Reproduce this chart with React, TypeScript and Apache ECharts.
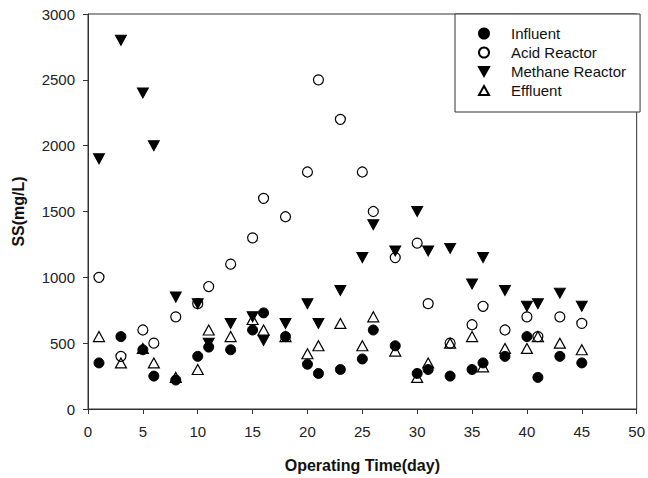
import React, { useEffect, useRef } from "react";
import * as echarts from "echarts";

const days = [1, 3, 5, 6, 8, 10, 11, 13, 15, 16, 18, 20, 21, 23, 25, 26, 28, 30, 31, 33, 35, 36, 38, 40, 41, 43, 45];
const influent = [350, 550, 450, 250, 220, 400, 470, 450, 600, 730, 550, 340, 270, 300, 380, 600, 480, 270, 300, 250, 300, 350, 400, 550, 240, 400, 350];
const acidReactor = [1000, 400, 600, 500, 700, 800, 930, 1100, 1300, 1600, 1460, 1800, 2500, 2200, 1800, 1500, 1150, 1260, 800, 500, 640, 780, 600, 700, 550, 700, 650];
const methaneReactor = [1900, 2800, 2400, 2000, 850, 800, 500, 650, 700, 520, 650, 800, 650, 900, 1150, 1400, 1200, 1500, 1200, 1220, 950, 1150, 900, 780, 800, 880, 780];
const effluent = [550, 350, 460, 350, 240, 300, 600, 550, 680, 600, 550, 420, 480, 650, 480, 700, 440, 240, 350, 500, 550, 320, 460, 460, 550, 500, 450];

const xTicks = [0, 5, 10, 15, 20, 25, 30, 35, 40, 45, 50];
const yTicks = [0, 500, 1000, 1500, 2000, 2500, 3000];
const seriesNames = ["Influent", "Acid Reactor", "Methane Reactor", "Effluent"];

const FONT = "'Liberation Sans', Arial, sans-serif";

function pairs(vals: number[]) {
  return days.map((d, i) => [d, vals[i]]);
}

export default function App() {
  const ref = useRef<HTMLDivElement>(null);
  useEffect(() => {
    document.body.style.margin = "0";
    if (!ref.current) return;
    const chart = echarts.init(ref.current, undefined, { renderer: "svg" });
    const axisColor = "#333";
    chart.setOption({
      animation: false,
      backgroundColor: "#fff",
      textStyle: { fontFamily: FONT },
      grid: {
        left: 88,
        top: 14,
        right: 8,
        bottom: 69,
        show: true,
        borderColor: axisColor,
        borderWidth: 1,
        backgroundColor: "transparent",
      },
      legend: {
        orient: "vertical",
        left: 455,
        top: 14,
        padding: [12, 14, 14, 23],
        itemWidth: 10,
        itemHeight: 10,
        itemGap: 4,
        borderColor: axisColor,
        borderWidth: 1,
        backgroundColor: "#fff",
        textStyle: { fontSize: 15, color: "#111", fontFamily: FONT, padding: [0, 0, 0, 17] },
        data: [
          { name: seriesNames[0], icon: "circle" },
          { name: seriesNames[1], icon: "circle" },
          { name: seriesNames[2], icon: "path://M0,0L2,0L1,1.8Z" },
          { name: seriesNames[3], icon: "path://M1,0L2,1.8L0,1.8Z" },
        ],
      },
      xAxis: {
        type: "value",
        min: xTicks[0],
        max: xTicks[xTicks.length - 1],
        interval: 5,
        name: "Operating Time(day)",
        nameLocation: "middle",
        nameGap: 48,
        nameTextStyle: { fontSize: 16, fontWeight: "bold", color: "#111", fontFamily: FONT },
        axisLine: { show: true, lineStyle: { color: axisColor, width: 1 } },
        axisTick: { show: true, length: 5, inside: false, lineStyle: { color: axisColor } },
        axisLabel: { fontSize: 15, color: "#222", margin: 15, fontFamily: FONT, formatter: (v: number) => String(v) },
        splitLine: { show: false },
      },
      yAxis: {
        type: "value",
        min: yTicks[0],
        max: yTicks[yTicks.length - 1],
        interval: 500,
        name: "SS(mg/L)",
        nameLocation: "middle",
        nameGap: 62,
        nameTextStyle: { fontSize: 16, fontWeight: "bold", color: "#111", fontFamily: FONT },
        axisLine: { show: true, lineStyle: { color: axisColor, width: 1 } },
        axisTick: { show: true, length: 5, inside: false, lineStyle: { color: axisColor } },
        axisLabel: { fontSize: 15, color: "#222", margin: 13, fontFamily: FONT, formatter: (v: number) => String(v) },
        splitLine: { show: false },
      },
      series: [
        {
          name: seriesNames[0],
          type: "scatter",
          symbol: "circle",
          symbolSize: 10,
          itemStyle: { color: "#000", borderColor: "#000", borderWidth: 1, opacity: 1 },
          data: pairs(influent),
          z: 2,
        },
        {
          name: seriesNames[1],
          type: "scatter",
          symbol: "circle",
          symbolSize: 10,
          itemStyle: { color: "rgba(255,255,255,0)", borderColor: "#000", borderWidth: 1.2, opacity: 1 },
          data: pairs(acidReactor),
          z: 3,
        },
        {
          name: seriesNames[2],
          type: "scatter",
          symbol: "triangle",
          symbolRotate: 180,
          symbolSize: [11, 10],
          itemStyle: { color: "#000", borderColor: "#000", borderWidth: 1, opacity: 1 },
          data: pairs(methaneReactor),
          z: 2,
        },
        {
          name: seriesNames[3],
          type: "scatter",
          symbol: "triangle",
          symbolSize: [11, 10],
          itemStyle: { color: "rgba(255,255,255,0)", borderColor: "#000", borderWidth: 1.2, opacity: 1 },
          data: pairs(effluent),
          z: 3,
        },
      ],
    });
    return () => chart.dispose();
  }, []);
  return <div ref={ref} style={{ width: 648, height: 478 }} />;
}
